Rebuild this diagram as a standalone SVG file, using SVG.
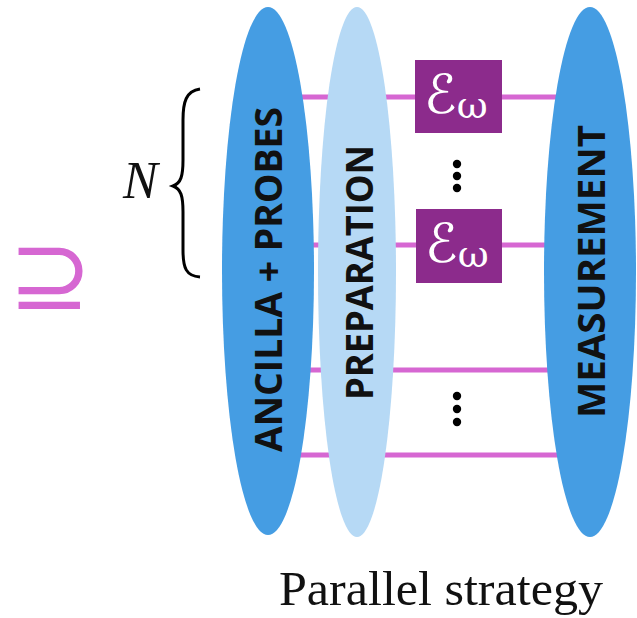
<svg xmlns="http://www.w3.org/2000/svg" width="637" height="618" viewBox="0 0 637 618">
  <style>
    .wire { stroke: #d667d2; stroke-width: 5; fill: none; }
    .blue { fill: #459de3; }
    .pale { fill: #b6d9f5; }
    .label { font-family: "Open Sans", "DejaVu Sans", sans-serif; font-weight: bold; font-size: 38px; fill: #111; }
    .chan { fill: #8c2b8c; }
    .chantxt { font-family: "DejaVu Serif", "DejaVu Sans", serif; fill: #fff; }
    .dot { fill: #000; }
  </style>
  <rect width="637" height="618" fill="#fff"/>

  <!-- qubit wires -->
  <g id="connectors">
    <line class="wire" x1="268" y1="97" x2="590" y2="97"/>
    <line class="wire" x1="268" y1="245" x2="590" y2="245"/>
    <line class="wire" x1="268" y1="370" x2="590" y2="370"/>
    <line class="wire" x1="268" y1="455" x2="590" y2="455"/>
  </g>

  <g id="ancilla">
    <ellipse class="blue" cx="268" cy="271" rx="46" ry="264"/>
    <text class="label" transform="translate(282,452) rotate(-90)" textLength="345" lengthAdjust="spacingAndGlyphs">ANCILLA + PROBES</text>
  </g>

  <g id="preparation">
    <ellipse class="pale" cx="357" cy="272" rx="39" ry="265"/>
    <text class="label" transform="translate(373,400) rotate(-90)" textLength="255" lengthAdjust="spacingAndGlyphs">PREPARATION</text>
  </g>

  <g id="measurement">
    <ellipse class="blue" cx="590" cy="272" rx="46" ry="265"/>
    <text class="label" transform="translate(605,418) rotate(-90)" textLength="293" lengthAdjust="spacingAndGlyphs">MEASUREMENT</text>
  </g>

  <g id="channel1">
    <rect class="chan" x="415" y="60" width="87" height="73"/>
    <text class="chantxt" x="424" y="113" font-size="54">ℰ<tspan font-size="38" dy="5">ω</tspan></text>
  </g>

  <g id="channel2">
    <rect class="chan" x="416" y="209" width="86" height="74"/>
    <text class="chantxt" x="425" y="262" font-size="54">ℰ<tspan font-size="38" dy="5">ω</tspan></text>
  </g>

  <g id="vdots-upper">
    <circle class="dot" cx="457" cy="164" r="4.2"/>
    <circle class="dot" cx="457" cy="176" r="4.2"/>
    <circle class="dot" cx="457" cy="188" r="4.2"/>
  </g>

  <g id="vdots-lower">
    <circle class="dot" cx="457" cy="396" r="4.2"/>
    <circle class="dot" cx="457" cy="409" r="4.2"/>
    <circle class="dot" cx="457" cy="422" r="4.2"/>
  </g>

  <!-- brace grouping the N probes -->
  <g id="brace">
    <path d="M200,89 C186,91 183,102 183,120 L183,160 C183,176 181,183 173,186 C181,189 183,196 183,212 L183,250 C183,268 186,276 200,277"
          fill="none" stroke="#000" stroke-width="3"/>
    <text x="123" y="198" font-family="Liberation Serif, serif" font-style="italic" font-size="52" fill="#111">N</text>
  </g>

  <g id="superset">
    <text x="8" y="309" font-family="DejaVu Sans, sans-serif" font-size="100" fill="#d667d2">⊇</text>
  </g>

  <g id="caption">
    <text x="279" y="605" font-family="Liberation Serif, serif" font-size="49" fill="#111" textLength="324" lengthAdjust="spacingAndGlyphs">Parallel strategy</text>
  </g>
</svg>
